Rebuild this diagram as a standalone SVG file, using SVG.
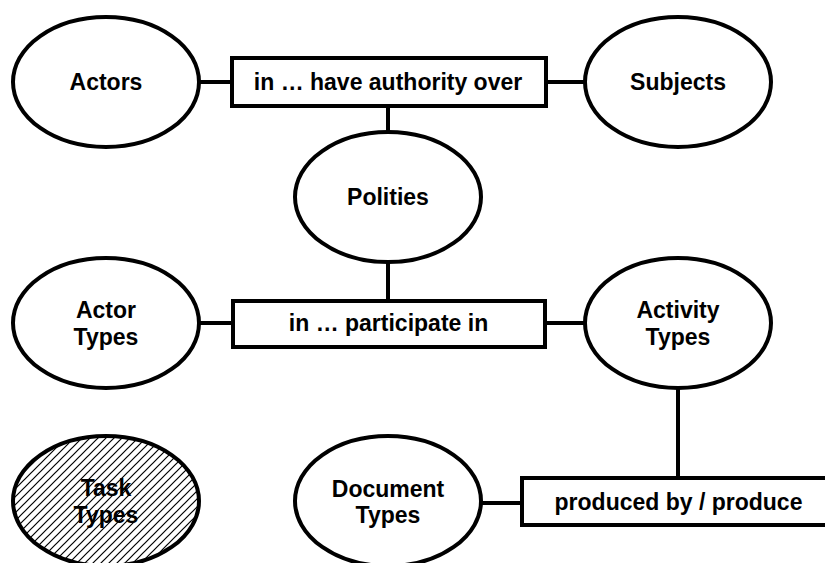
<svg xmlns="http://www.w3.org/2000/svg" width="825" height="563" viewBox="0 0 825 563">
<style>
.n{fill:#fff;stroke:#000;stroke-width:4}
.h{fill:url(#hatch);stroke:#000;stroke-width:4}
.c{stroke:#000;stroke-width:4;fill:none}
text{font-family:"Liberation Sans",Arial,sans-serif;font-weight:bold;font-size:23px;fill:#000;text-anchor:middle}
</style>
<defs>
<pattern id="hatch" patternUnits="userSpaceOnUse" width="8" height="8">
<rect width="8" height="8" fill="#fff"/>
<path d="M-2,2 L2,-2 M0,8 L8,0 M6,10 L10,6" stroke="#000" stroke-width="1.2"/>
</pattern>
</defs>
<rect width="825" height="563" fill="#fff"/>
<g id="connectors">
<line class="c" x1="199" y1="82" x2="232" y2="82"/>
<line class="c" x1="546" y1="82" x2="585" y2="82"/>
<line class="c" x1="388" y1="106" x2="388" y2="132"/>
<line class="c" x1="388" y1="262" x2="388" y2="301"/>
<line class="c" x1="199" y1="323" x2="233" y2="323"/>
<line class="c" x1="545" y1="323" x2="585" y2="323"/>
<line class="c" x1="678" y1="389" x2="678" y2="478"/>
<line class="c" x1="482" y1="503" x2="522" y2="503"/>
</g>
<g id="actors"><ellipse class="n" cx="106" cy="82" rx="93" ry="65"/><text x="106" y="90">Actors</text></g>
<g id="rel-authority"><rect class="n" x="232" y="58" width="314" height="48"/><text x="388" y="90">in … have authority over</text></g>
<g id="subjects"><ellipse class="n" cx="678" cy="82" rx="93" ry="65"/><text x="678" y="90">Subjects</text></g>
<g id="polities"><ellipse class="n" cx="388" cy="197" rx="93" ry="65"/><text x="388" y="205">Polities</text></g>
<g id="actor-types"><ellipse class="n" cx="106" cy="323" rx="93" ry="65"/><text x="106" y="318">Actor</text><text x="106" y="345">Types</text></g>
<g id="rel-participate"><rect class="n" x="233" y="301" width="312" height="46"/><text x="388.5" y="331">in … participate in</text></g>
<g id="activity-types"><ellipse class="n" cx="678" cy="323" rx="93" ry="65"/><text x="678" y="318">Activity</text><text x="678" y="345">Types</text></g>
<g id="task-types"><ellipse class="h" cx="106" cy="501" rx="93" ry="65"/><text x="106" y="496">Task</text><text x="106" y="523">Types</text></g>
<g id="document-types"><ellipse class="n" cx="388" cy="501" rx="93" ry="65"/><text x="388" y="497">Document</text><text x="388" y="523">Types</text></g>
<g id="rel-produce"><rect class="n" x="522" y="478" width="313" height="47"/><text x="678.5" y="510">produced by / produce</text></g>
</svg>
